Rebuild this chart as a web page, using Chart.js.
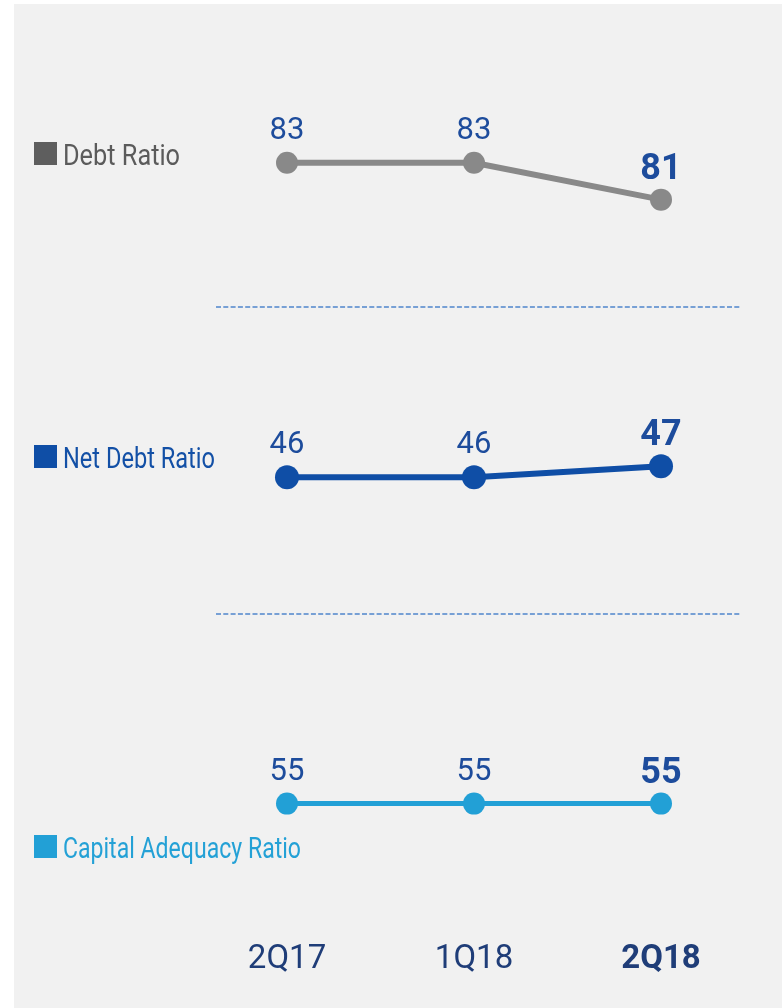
<!DOCTYPE html>
<html>
<head>
<meta charset="utf-8">
<script src="https://cdn.jsdelivr.net/npm/chart.js@4.4.1/dist/chart.umd.min.js"></script>
<style>
  html, body { margin: 0; padding: 0; background: #ffffff; }
  #wrap { width: 782px; height: 1008px; }
</style>
</head>
<body>
<div id="wrap"><canvas id="ratioChart" width="782" height="1008"></canvas></div>
<script>
// data
const quarters = ['2Q17', '1Q18', '2Q18'];
const debtRatio = [83, 83, 81];
const netDebtRatio = [46, 46, 47];
const capitalAdequacy = [55, 55, 55];
const seriesNames = ['Debt Ratio', 'Net Debt Ratio', 'Capital Adequacy Ratio'];

const FONT = 'Roboto';
const valueBlue = '#1d4c9c';
const tickNavy = '#1f3d78';

// background panel + dashed separators + left legends + value labels
const decorPlugin = {
    id: 'decor',
    beforeDraw(chart) {
        const c = chart.ctx;
        c.save();
        c.fillStyle = '#f1f1f1';
        c.fillRect(14, 4, chart.width - 14, chart.height - 4);
        c.restore();
    },
    afterDraw(chart) {
        const c = chart.ctx;
        // dashed separators at band boundaries
        c.save();
        c.strokeStyle = '#4f85cc';
        c.lineWidth = 1.6;
        c.setLineDash([5, 2.3]);
        ['yNet', 'yCap'].forEach(function(id) {
            const yy = Math.round(chart.scales[id].top);
            c.beginPath();
            c.moveTo(216, yy);
            c.lineTo(740, yy);
            c.stroke();
        });
        c.restore();

        // legends at left
        const legendPos = [
            { y: 142, w: 117, sq: '#5e5e5e', txt: '#5b5b5b' },
            { y: 445, w: 152, sq: '#0f4ea6', txt: '#1350a6' },
            { y: 835, w: 238, sq: '#22a0d6', txt: '#24a1d6' }
        ];
        legendPos.forEach(function(l, i) {
            c.save();
            c.fillStyle = l.sq;
            c.fillRect(34, l.y, 23, 23);
            c.font = '30px ' + FONT;
            c.fillStyle = l.txt;
            c.textBaseline = 'alphabetic';
            const m = c.measureText(seriesNames[i]).width;
            c.translate(63, l.y + 23);
            c.scale(l.w / m, 1);
            c.fillText(seriesNames[i], 0, 0);
            c.restore();
        });

        // value labels over points
        chart.data.datasets.forEach(function(ds, di) {
            const meta = chart.getDatasetMeta(di);
            meta.data.forEach(function(pt, i) {
                const last = i === quarters.length - 1;
                c.save();
                c.font = (last ? 'bold 36px ' : '31px ') + FONT;
                c.fillStyle = valueBlue;
                c.textAlign = 'center';
                c.textBaseline = 'alphabetic';
                c.fillText(String(ds.data[i]), pt.x, pt.y - (last ? 21 : 24));
                c.restore();
            });
        });
    }
};

function hiddenAxis(min, max, weight) {
    return {
        type: 'linear',
        position: 'left',
        stack: 'bands',
        stackWeight: weight,
        min: min,
        max: max,
        ticks: { display: false },
        grid: { display: false, drawTicks: false },
        border: { display: false }
    };
}

new Chart(document.getElementById('ratioChart'), {
    type: 'line',
    data: {
        labels: quarters,
        datasets: [{
            label: seriesNames[0],
            data: debtRatio,
            yAxisID: 'yDebt',
            borderColor: '#898989',
            backgroundColor: '#898989',
            borderWidth: 6,
            pointRadius: 11,
            pointBorderWidth: 0
        }, {
            label: seriesNames[1],
            data: netDebtRatio,
            yAxisID: 'yNet',
            borderColor: '#0f4ea6',
            backgroundColor: '#0f4ea6',
            borderWidth: 6,
            pointRadius: 12,
            pointBorderWidth: 0
        }, {
            label: seriesNames[2],
            data: capitalAdequacy,
            yAxisID: 'yCap',
            borderColor: '#22a0d6',
            backgroundColor: '#22a0d6',
            borderWidth: 5,
            pointRadius: 11,
            pointBorderWidth: 0
        }]
    },
    options: {
        responsive: false,
        animation: false,
        events: [],
        layout: { padding: { left: 193.5, right: 27.5, top: 8, bottom: 8 } },
        plugins: { legend: { display: false }, tooltip: { enabled: false } },
        scales: {
            x: {
                offset: true,
                grid: { display: false, drawTicks: false },
                border: { display: false },
                ticks: {
                    padding: 20,
                    color: tickNavy,
                    font: function(ctx) {
                        return ctx.index === quarters.length - 1
                            ? { family: FONT, size: 33, weight: 'bold' }
                            : { family: FONT, size: 33, weight: 'normal' };
                    }
                }
            },
            // stacked bands: last listed is drawn at the top
            yCap: hiddenAxis(43.3, 74, 307),
            yNet: hiddenAxis(33.55, 61.45, 307),
            yDebt: hiddenAxis(75.16, 91.16, 296)
        }
    },
    plugins: [decorPlugin]
});
</script>
</body>
</html>
